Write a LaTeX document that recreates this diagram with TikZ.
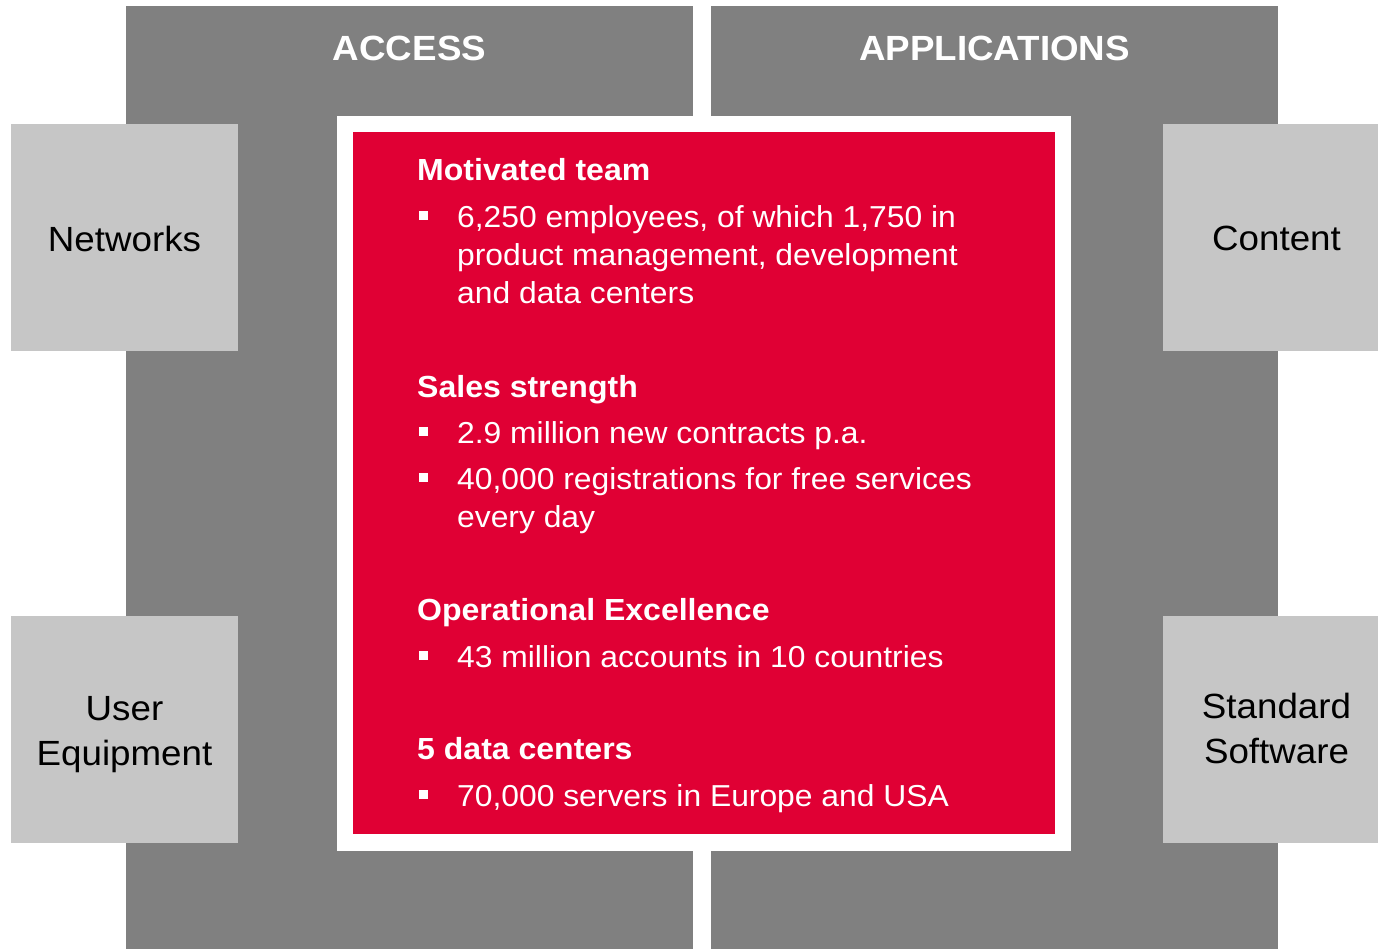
\documentclass[tikz,border=0pt]{standalone}
\usepackage{fontspec}
\setmainfont{Liberation Sans}[FakeStretch=1.05]
\definecolor{panelgray}{RGB}{128,128,128}
\definecolor{boxgray}{RGB}{198,198,198}
\definecolor{brandred}{RGB}{224,0,52}
\tikzset{
  block/.style={draw=none, inner sep=0pt, outer sep=0pt, anchor=north west},
  panel/.style={block, fill=panelgray, minimum width=567pt, minimum height=950pt},
  sidebox/.style={block, fill=boxgray, minimum width=227pt, minimum height=227pt},
  frame/.style={block, fill=white, minimum width=734pt, minimum height=735pt},
  core/.style={block, fill=brandred, minimum width=702pt, minimum height=702pt},
  title/.style={anchor=base, inner sep=0pt, text=white, font=\fontsize{35}{44}\selectfont\bfseries},
  boxlabel/.style={inner sep=0pt, align=center, text=black, font=\fontsize{35}{45.5}\selectfont},
  head/.style={anchor=base west, inner sep=0pt, text=white, font=\fontsize{30.5}{38}\selectfont\bfseries},
  line/.style={anchor=base west, inner sep=0pt, text=white, font=\fontsize{30.3}{38}\selectfont},
  bulletsq/.style={fill=white, draw=none, inner sep=0pt, minimum size=9pt}
}
\begin{document}
\begin{tikzpicture}[x=1pt, y=-1pt]
\clip (0,0) rectangle (1378,948);
\fill[white] (0,0) rectangle (1378,948);

% two gray columns
\node[panel] (access) at (126,6) {};
\node[panel] (apps) at (711,6) {};
\node[title] (accessT) at (409.5,60) {ACCESS};
\node[title] (appsT) at (994.5,60) {APPLICATIONS};

% side boxes
\node[sidebox] (net) at (11,124) {};
\node[sidebox] (ue) at (11,616) {};
\node[sidebox] (cont) at (1163,124) {};
\node[sidebox] (soft) at (1163,616) {};
\node[boxlabel, yshift=-1pt] (netL) at (net.center) {Networks};
\node[boxlabel, yshift=-5pt] (ueL) at (ue.center) {User\\Equipment};
\node[boxlabel, yshift=-1pt] (contL) at (cont.center) {Content};
\node[boxlabel, yshift=1pt] (softL) at (soft.center) {Standard\\Software};

% central red block in a white frame
\node[frame] (fr) at (337,116) {};
\node[core] (red) at (353,132) {};

% Motivated team
\node[head] (h1) at (417,180.5) {Motivated team};
\node[bulletsq] (b11) at (423.5,215) {};
\node[line] (t11a) at (457,227) {6,250 employees, of which 1,750 in};
\node[line] (t11b) at (457,265) {product management, development};
\node[line] (t11c) at (457,303) {and data centers};

% Sales strength
\node[head] (h2) at (417,397) {Sales strength};
\node[bulletsq] (b21) at (423.5,431.5) {};
\node[line] (t21) at (457,443) {2.9 million new contracts p.a.};
\node[bulletsq] (b22) at (423.5,477.5) {};
\node[line] (t22a) at (457,489) {40,000 registrations for free services};
\node[line] (t22b) at (457,527) {every day};

% Operational Excellence
\node[head] (h3) at (417,620.5) {Operational Excellence};
\node[bulletsq] (b31) at (423.5,655) {};
\node[line] (t31) at (457,667) {43 million accounts in 10 countries};

% 5 data centers
\node[head] (h4) at (417,759.5) {5 data centers};
\node[bulletsq] (b41) at (423.5,794.5) {};
\node[line] (t41) at (457,806) {70,000 servers in Europe and USA};
\end{tikzpicture}
\end{document}
